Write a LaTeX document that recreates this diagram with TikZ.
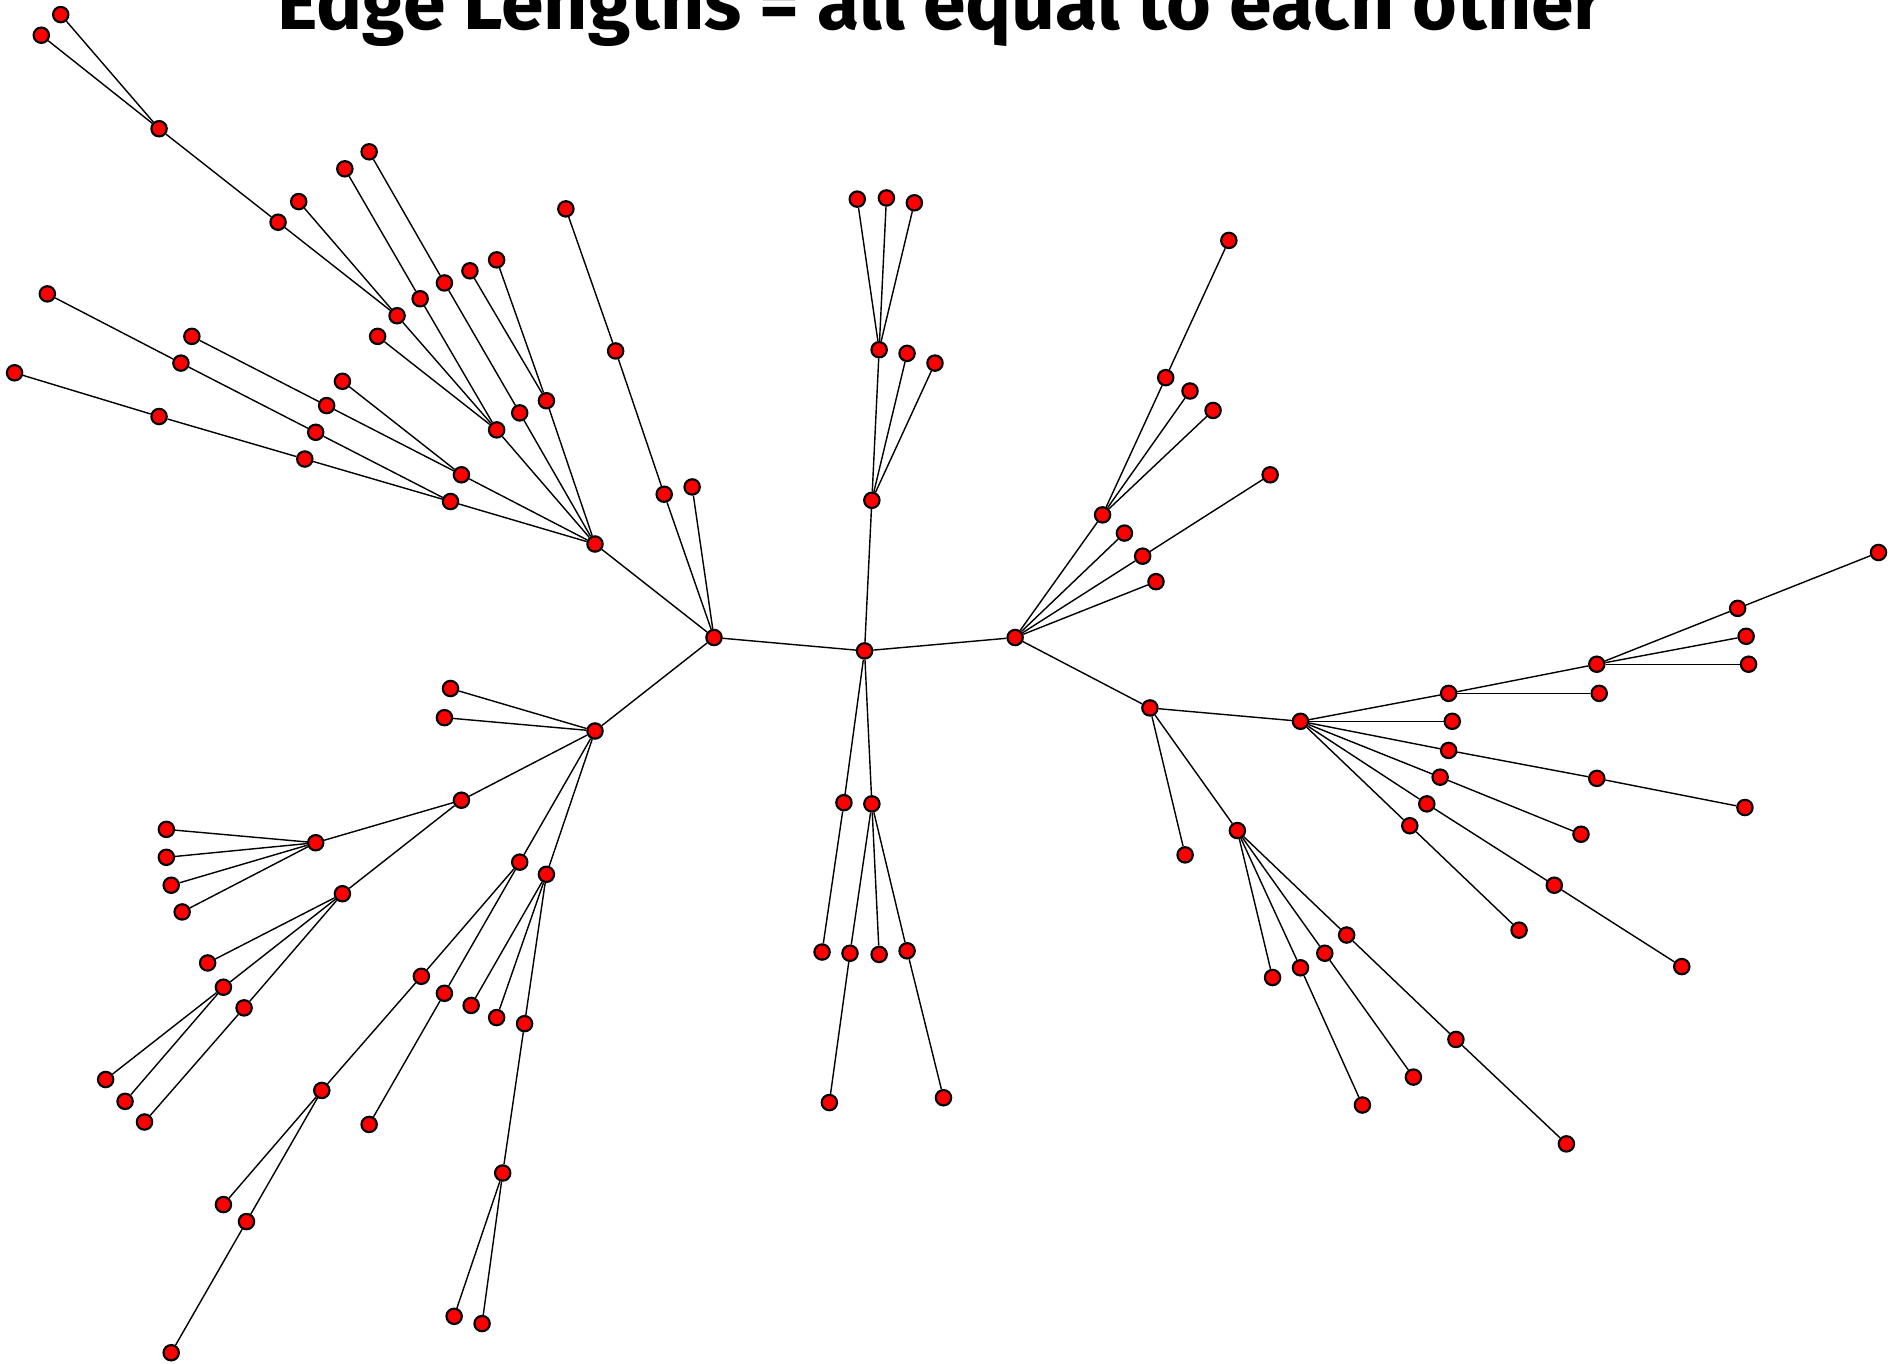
\documentclass[tikz,border=0pt]{standalone}
\usepackage{fontspec}
\setsansfont{Fira Sans}
\tikzset{
  vtx/.style={circle, draw=black, fill=red, line width=0.5pt, minimum size=3.6pt, inner sep=0pt},
  edge/.style={draw=black, line width=0.33pt},
  ttl/.style={font=\sffamily\bfseries\fontsize{18}{21}\selectfont, inner sep=0pt, anchor=base}
}
\begin{document}
\begin{tikzpicture}[x=0.01cm, y=-0.01cm]
\useasboundingbox (0,0) rectangle (1568,1123);
\node[ttl] (ttl) at (775,24) {Edge Lengths = all equal to each other};

% centre
\node[vtx] (c) at (712,536) {};
\node[vtx] (l) at (588,525) {};
\node[vtx] (r) at (836,525) {};
\node[vtx] (u) at (718,412) {};
\node[vtx] (da) at (695,661) {};
\node[vtx] (db) at (718,662) {};

% upper stem
\node[vtx] (u1) at (724,288) {};
\node[vtx] (u2) at (747,291) {};
\node[vtx] (u3) at (770,299) {};
\node[vtx] (u11) at (706,164) {};
\node[vtx] (u12) at (730,163) {};
\node[vtx] (u13) at (753,167) {};

% lower stem
\node[vtx] (da1) at (677,784) {};
\node[vtx] (db1) at (700,785) {};
\node[vtx] (db2) at (724,786) {};
\node[vtx] (db3) at (747,783) {};
\node[vtx] (db11) at (683,908) {};
\node[vtx] (db31) at (777,904) {};

% upper left
\node[vtx] (la) at (547,407) {};
\node[vtx] (la1) at (507,289) {};
\node[vtx] (la2) at (466,172) {};
\node[vtx] (lb) at (570,401) {};
\node[vtx] (h) at (490,448) {};
\node[vtx] (h1) at (371,413) {};
\node[vtx] (h2) at (380,391) {};
\node[vtx] (h3) at (409,354) {};
\node[vtx] (h4) at (428,340) {};
\node[vtx] (h5) at (450,330) {};
\node[vtx] (h11) at (260,356) {};
\node[vtx] (h111) at (149,299) {};
\node[vtx] (h1111) at (39,242) {};
\node[vtx] (h12) at (251,378) {};
\node[vtx] (h121) at (131,343) {};
\node[vtx] (h1211) at (12,307) {};
\node[vtx] (h21) at (269,334) {};
\node[vtx] (h211) at (158,277) {};
\node[vtx] (h22) at (282,314) {};
\node[vtx] (h31) at (327,260) {};
\node[vtx] (h32) at (346,246) {};
\node[vtx] (h33) at (311,277) {};
\node[vtx] (h311) at (229,183) {};
\node[vtx] (h312) at (246,166) {};
\node[vtx] (h3111) at (131,106) {};
\node[vtx] (h31111) at (50,12) {};
\node[vtx] (h31112) at (34,29) {};
\node[vtx] (h321) at (284,139) {};
\node[vtx] (h41) at (366,233) {};
\node[vtx] (h411) at (304,125) {};
\node[vtx] (h51) at (387,223) {};
\node[vtx] (h52) at (409,214) {};

% lower left
\node[vtx] (b) at (490,602) {};
\node[vtx] (b1) at (371,567) {};
\node[vtx] (b2) at (366,591) {};
\node[vtx] (b3) at (380,659) {};
\node[vtx] (b4) at (428,710) {};
\node[vtx] (b5) at (450,720) {};
\node[vtx] (b31) at (260,694) {};
\node[vtx] (b32) at (282,736) {};
\node[vtx] (b311) at (137,683) {};
\node[vtx] (b312) at (137,706) {};
\node[vtx] (b313) at (141,729) {};
\node[vtx] (b314) at (150,751) {};
\node[vtx] (b321) at (171,793) {};
\node[vtx] (b322) at (184,813) {};
\node[vtx] (b323) at (201,830) {};
\node[vtx] (b3221) at (87,889) {};
\node[vtx] (b3222) at (103,907) {};
\node[vtx] (b3231) at (119,924) {};
\node[vtx] (b41) at (347,804) {};
\node[vtx] (b42) at (366,818) {};
\node[vtx] (b411) at (265,898) {};
\node[vtx] (b4111) at (184,992) {};
\node[vtx] (b4112) at (203,1006) {};
\node[vtx] (b41121) at (141,1114) {};
\node[vtx] (b421) at (304,926) {};
\node[vtx] (b51) at (388,828) {};
\node[vtx] (b52) at (409,838) {};
\node[vtx] (b53) at (432,843) {};
\node[vtx] (b531) at (414,966) {};
\node[vtx] (b5311) at (374,1084) {};
\node[vtx] (b5312) at (397,1090) {};

% right
\node[vtx] (ra) at (908,424) {};
\node[vtx] (rb) at (926,439) {};
\node[vtx] (rc) at (941,458) {};
\node[vtx] (rd) at (952,479) {};
\node[vtx] (re) at (947,583) {};
\node[vtx] (ra1) at (960,311) {};
\node[vtx] (ra11) at (1012,198) {};
\node[vtx] (ra2) at (980,322) {};
\node[vtx] (ra3) at (999,338) {};
\node[vtx] (rc1) at (1046,391) {};
\node[vtx] (re1) at (976,704) {};
\node[vtx] (re2) at (1019,684) {};
\node[vtx] (re3) at (1071,594) {};
\node[vtx] (re21) at (1048,805) {};
\node[vtx] (re22) at (1071,797) {};
\node[vtx] (re23) at (1091,785) {};
\node[vtx] (re24) at (1109,770) {};
\node[vtx] (re221) at (1122,910) {};
\node[vtx] (re231) at (1164,887) {};
\node[vtx] (re241) at (1199,856) {};
\node[vtx] (re2411) at (1290,942) {};
\node[vtx] (re31) at (1193,571) {};
\node[vtx] (re32) at (1196,594) {};
\node[vtx] (re33) at (1193,618) {};
\node[vtx] (re34) at (1186,640) {};
\node[vtx] (re35) at (1175,662) {};
\node[vtx] (re36) at (1161,680) {};
\node[vtx] (re311) at (1317,571) {};
\node[vtx] (re312) at (1315,547) {};
\node[vtx] (re3121) at (1431,501) {};
\node[vtx] (re31211) at (1547,455) {};
\node[vtx] (re3122) at (1438,524) {};
\node[vtx] (re3123) at (1440,547) {};
\node[vtx] (re331) at (1315,641) {};
\node[vtx] (re3311) at (1437,665) {};
\node[vtx] (re341) at (1302,687) {};
\node[vtx] (re351) at (1280,729) {};
\node[vtx] (re3511) at (1385,796) {};
\node[vtx] (re361) at (1251,766) {};

% edges
\draw[edge] (c) -- (l); \draw[edge] (c) -- (r); \draw[edge] (c) -- (u); \draw[edge] (c) -- (da); \draw[edge] (c) -- (db);
\draw[edge] (u) -- (u1); \draw[edge] (u) -- (u2); \draw[edge] (u) -- (u3);
\draw[edge] (u1) -- (u11); \draw[edge] (u1) -- (u12); \draw[edge] (u1) -- (u13);
\draw[edge] (da) -- (da1); \draw[edge] (db) -- (db1); \draw[edge] (db) -- (db2); \draw[edge] (db) -- (db3);
\draw[edge] (db1) -- (db11); \draw[edge] (db3) -- (db31);

\draw[edge] (l) -- (la); \draw[edge] (la) -- (la1); \draw[edge] (la1) -- (la2); \draw[edge] (l) -- (lb);
\draw[edge] (l) -- (h); \draw[edge] (l) -- (b);
\draw[edge] (h) -- (h1); \draw[edge] (h) -- (h2); \draw[edge] (h) -- (h3); \draw[edge] (h) -- (h4); \draw[edge] (h) -- (h5);
\draw[edge] (h1) -- (h11); \draw[edge] (h11) -- (h111); \draw[edge] (h111) -- (h1111);
\draw[edge] (h1) -- (h12); \draw[edge] (h12) -- (h121); \draw[edge] (h121) -- (h1211);
\draw[edge] (h2) -- (h21); \draw[edge] (h21) -- (h211); \draw[edge] (h2) -- (h22);
\draw[edge] (h3) -- (h31); \draw[edge] (h3) -- (h32); \draw[edge] (h3) -- (h33);
\draw[edge] (h31) -- (h311); \draw[edge] (h31) -- (h312); \draw[edge] (h311) -- (h3111);
\draw[edge] (h3111) -- (h31111); \draw[edge] (h3111) -- (h31112); \draw[edge] (h32) -- (h321);
\draw[edge] (h4) -- (h41); \draw[edge] (h41) -- (h411); \draw[edge] (h5) -- (h51); \draw[edge] (h5) -- (h52);

\draw[edge] (b) -- (b1); \draw[edge] (b) -- (b2); \draw[edge] (b) -- (b3); \draw[edge] (b) -- (b4); \draw[edge] (b) -- (b5);
\draw[edge] (b3) -- (b31); \draw[edge] (b3) -- (b32);
\draw[edge] (b31) -- (b311); \draw[edge] (b31) -- (b312); \draw[edge] (b31) -- (b313); \draw[edge] (b31) -- (b314);
\draw[edge] (b32) -- (b321); \draw[edge] (b32) -- (b322); \draw[edge] (b32) -- (b323);
\draw[edge] (b322) -- (b3221); \draw[edge] (b322) -- (b3222); \draw[edge] (b323) -- (b3231);
\draw[edge] (b4) -- (b41); \draw[edge] (b4) -- (b42); \draw[edge] (b41) -- (b411);
\draw[edge] (b411) -- (b4111); \draw[edge] (b411) -- (b4112); \draw[edge] (b4112) -- (b41121); \draw[edge] (b42) -- (b421);
\draw[edge] (b5) -- (b51); \draw[edge] (b5) -- (b52); \draw[edge] (b5) -- (b53);
\draw[edge] (b53) -- (b531); \draw[edge] (b531) -- (b5311); \draw[edge] (b531) -- (b5312);

\draw[edge] (r) -- (ra); \draw[edge] (r) -- (rb); \draw[edge] (r) -- (rc); \draw[edge] (r) -- (rd); \draw[edge] (r) -- (re);
\draw[edge] (ra) -- (ra1); \draw[edge] (ra1) -- (ra11); \draw[edge] (ra) -- (ra2); \draw[edge] (ra) -- (ra3); \draw[edge] (rc) -- (rc1);
\draw[edge] (re) -- (re1); \draw[edge] (re) -- (re2); \draw[edge] (re) -- (re3);
\draw[edge] (re2) -- (re21); \draw[edge] (re2) -- (re22); \draw[edge] (re2) -- (re23); \draw[edge] (re2) -- (re24);
\draw[edge] (re22) -- (re221); \draw[edge] (re23) -- (re231); \draw[edge] (re24) -- (re241); \draw[edge] (re241) -- (re2411);
\draw[edge] (re3) -- (re31); \draw[edge] (re3) -- (re32); \draw[edge] (re3) -- (re33);
\draw[edge] (re3) -- (re34); \draw[edge] (re3) -- (re35); \draw[edge] (re3) -- (re36);
\draw[edge] (re31) -- (re311); \draw[edge] (re31) -- (re312);
\draw[edge] (re312) -- (re3121); \draw[edge] (re3121) -- (re31211); \draw[edge] (re312) -- (re3122); \draw[edge] (re312) -- (re3123);
\draw[edge] (re33) -- (re331); \draw[edge] (re331) -- (re3311); \draw[edge] (re34) -- (re341);
\draw[edge] (re35) -- (re351); \draw[edge] (re351) -- (re3511); \draw[edge] (re36) -- (re361);
\end{tikzpicture}
\end{document}
